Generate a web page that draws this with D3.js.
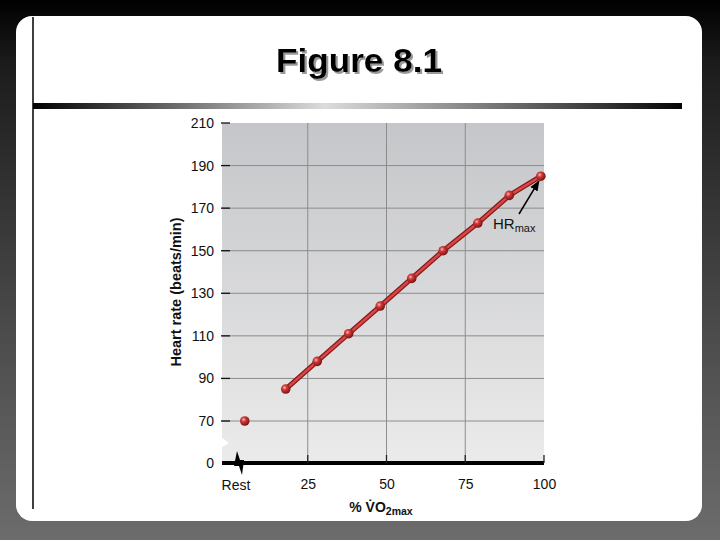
<!DOCTYPE html>
<html>
<head>
<meta charset="utf-8">
<script src="https://cdn.jsdelivr.net/npm/d3@7"></script>
<style>
  body { margin: 0; background: #000; }
  svg { display: block; }
</style>
</head>
<body>
<div id="chart"></div>
<script>
// data
var rest_hr = 70
var rest_pos = 5          // where the rest point sits on the % axis
var exercise_pct = [18, 28, 38, 48, 58, 68, 79, 89, 99]
var exercise_hr = [85, 98, 111, 124, 137, 150, 163, 176, 185]
var y_ticks = [0, 70, 90, 110, 130, 150, 170, 190, 210]
var x_ticks = [25, 50, 75, 100]

var W = 720, H = 540
var plot_left = 222, plot_right = 544, plot_top = 123, plot_bottom = 463

var svg = d3.select("#chart").append("svg")
    .attr("width", W)
    .attr("height", H)
var defs = svg.append("defs")

// gradients
var frame_grad = defs.append("linearGradient").attr("id", "frame_grad")
    .attr("x1", 0).attr("y1", 0).attr("x2", 0).attr("y2", 1)
frame_grad.append("stop").attr("offset", "0%").attr("stop-color", "#000")
frame_grad.append("stop").attr("offset", "12%").attr("stop-color", "#1c1c1c")
frame_grad.append("stop").attr("offset", "60%").attr("stop-color", "#4a4a4a")
frame_grad.append("stop").attr("offset", "100%").attr("stop-color", "#6c6c6c")

var bar_grad = defs.append("linearGradient").attr("id", "bar_grad")
bar_grad.append("stop").attr("offset", "0%").attr("stop-color", "#000")
bar_grad.append("stop").attr("offset", "45%").attr("stop-color", "#dcdcdc")
bar_grad.append("stop").attr("offset", "100%").attr("stop-color", "#050505")

var bg_grad = defs.append("linearGradient").attr("id", "bg_grad")
    .attr("x1", 0).attr("y1", 0).attr("x2", 0).attr("y2", 1)
bg_grad.append("stop").attr("offset", "0%").attr("stop-color", "#c5c6c9")
bg_grad.append("stop").attr("offset", "100%").attr("stop-color", "#ebebeb")

var ball = defs.append("radialGradient").attr("id", "ball")
    .attr("cx", "38%").attr("cy", "35%").attr("r", "65%")
ball.append("stop").attr("offset", "0%").attr("stop-color", "#fbb")
ball.append("stop").attr("offset", "35%").attr("stop-color", "#d33a3a")
ball.append("stop").attr("offset", "100%").attr("stop-color", "#7a1212")

defs.append("filter").attr("id", "shadow")
    .append("feDropShadow")
    .attr("dx", 2).attr("dy", 2).attr("stdDeviation", 0.6)
    .attr("flood-color", "#999").attr("flood-opacity", 1)

defs.append("marker").attr("id", "arrow")
    .attr("viewBox", "0 0 10 10").attr("refX", 9).attr("refY", 5)
    .attr("markerWidth", 7).attr("markerHeight", 7).attr("orient", "auto")
    .append("path").attr("d", "M0,1 L10,5 L0,9 Z").attr("fill", "#000")

// slide frame
svg.append("rect").attr("width", W).attr("height", H).attr("fill", "url(#frame_grad)")
svg.append("rect")
    .attr("x", 16).attr("y", 16).attr("width", 686).attr("height", 505)
    .attr("rx", 16).attr("ry", 16)
    .attr("fill", "#fff")
svg.append("line")
    .attr("x1", 33).attr("y1", 17).attr("x2", 33).attr("y2", 509)
    .attr("stroke", "#000").attr("stroke-width", 1.5)
svg.append("rect")
    .attr("x", 33).attr("y", 103).attr("width", 649).attr("height", 6)
    .attr("fill", "url(#bar_grad)")

// title
var title_font = "'Liberation Sans', Arial, sans-serif"
svg.append("text")
    .text("Figure 8.1")
    .attr("x", 359).attr("y", 72)
    .attr("text-anchor", "middle")
    .attr("font-family", title_font).attr("font-weight", "bold")
    .attr("font-size", 34).attr("fill", "#000")
    .attr("textLength", 166).attr("lengthAdjust", "spacingAndGlyphs")
    .attr("filter", "url(#shadow)")

// scales
var x = d3.scaleLinear().domain([0, 100]).range([229, plot_right])
var y = d3.scaleLinear().domain([0, 70, 210]).range([plot_bottom, 421, plot_top])

var chart = svg.append("g").attr("font-family", title_font)

chart.append("rect")
    .attr("x", plot_left).attr("y", plot_top)
    .attr("width", plot_right - plot_left).attr("height", plot_bottom - plot_top)
    .attr("fill", "url(#bg_grad)")

// grid
chart.selectAll(".hgrid")
    .data(y_ticks.filter(function(d){ return d > 0 && d < 210 })).enter()
    .append("line").attr("class", "hgrid")
    .attr("x1", plot_left).attr("x2", plot_right)
    .attr("y1", function(d){ return y(d) }).attr("y2", function(d){ return y(d) })
    .attr("stroke", "#8c8c8c").attr("stroke-width", 1)
chart.selectAll(".vgrid")
    .data(x_ticks.filter(function(d){ return d < 100 })).enter()
    .append("line").attr("class", "vgrid")
    .attr("x1", function(d){ return x(d) }).attr("x2", function(d){ return x(d) })
    .attr("y1", plot_top).attr("y2", plot_bottom)
    .attr("stroke", "#8c8c8c").attr("stroke-width", 1)

// white notch = y axis break
chart.append("path")
    .attr("d", "M221,437 L229,443 L221,448 Z")
    .attr("fill", "#fff")

// y axis ticks + labels
var yAxis = d3.axisLeft(y).tickValues(y_ticks).tickSize(0).tickPadding(8)
var yg = chart.append("g").attr("transform", "translate(" + plot_left + ",0)").call(yAxis)
yg.select(".domain").remove()
yg.selectAll("text").attr("font-size", 14).attr("font-family", title_font).attr("fill", "#111")
chart.selectAll(".ytick")
    .data(y_ticks.filter(function(d){ return d > 0 })).enter()
    .append("line").attr("class", "ytick")
    .attr("x1", plot_left - 1).attr("x2", plot_left + 8)
    .attr("y1", function(d){ return y(d) }).attr("y2", function(d){ return y(d) })
    .attr("stroke", "#111").attr("stroke-width", 1.3)

// x axis
chart.append("line")
    .attr("x1", plot_left).attr("x2", plot_right)
    .attr("y1", plot_bottom).attr("y2", plot_bottom)
    .attr("stroke", "#000").attr("stroke-width", 4)
chart.selectAll(".xtick")
    .data(x_ticks).enter()
    .append("line").attr("class", "xtick")
    .attr("x1", function(d){ return x(d) }).attr("x2", function(d){ return x(d) })
    .attr("y1", plot_bottom - 8).attr("y2", plot_bottom)
    .attr("stroke", "#222").attr("stroke-width", 1.3)
var xAxis = d3.axisBottom(x).tickValues(x_ticks).tickSize(0).tickPadding(16)
var xg = chart.append("g").attr("transform", "translate(0," + plot_bottom + ")").call(xAxis)
xg.select(".domain").remove()
xg.selectAll("text").attr("font-size", 14).attr("font-family", title_font).attr("fill", "#111")
chart.append("text")
    .text("Rest")
    .attr("x", x(2.2)).attr("y", 490)
    .attr("text-anchor", "middle")
    .attr("font-size", 14).attr("fill", "#111")

// axis break symbol
chart.append("path")
    .attr("d", "M234,466 L237,451 L240,460 L244,460 L242,475 L239,466 Z")
    .attr("fill", "#000")

// axis titles
chart.append("text")
    .text("Heart rate (beats/min)")
    .attr("transform", "translate(181,292) rotate(-90)")
    .attr("text-anchor", "middle")
    .attr("font-size", 14.5).attr("font-weight", "bold").attr("fill", "#111")
var xt = chart.append("text")
    .attr("x", 381).attr("y", 512)
    .attr("text-anchor", "middle")
    .attr("font-size", 14).attr("font-weight", "bold").attr("fill", "#111")
xt.append("tspan").text("% V\u0307O")
xt.append("tspan").text("2max").attr("font-size", 10.5).attr("dy", 3)

// data line
var pts = exercise_pct.map(function(d, i){ return [d, exercise_hr[i]] })
var line = d3.line().x(function(d){ return x(d[0]) }).y(function(d){ return y(d[1]) })
chart.append("path").datum(pts)
    .attr("d", line).attr("fill", "none")
    .attr("stroke", "#8a1a1a").attr("stroke-width", 5).attr("stroke-linejoin", "round")
chart.append("path").datum(pts)
    .attr("d", line).attr("fill", "none")
    .attr("stroke", "#d84848").attr("stroke-width", 2.4).attr("stroke-linejoin", "round")

var all_pts = [[rest_pos, rest_hr]].concat(pts)
chart.selectAll(".dot")
    .data(all_pts).enter()
    .append("circle").attr("class", "dot")
    .attr("cx", function(d){ return x(d[0]) })
    .attr("cy", function(d){ return y(d[1]) })
    .attr("r", 4.8)
    .attr("fill", "url(#ball)")

// HRmax annotation
var hr_max = pts[pts.length - 1]
chart.append("line")
    .attr("x1", 519).attr("y1", 214)
    .attr("x2", x(hr_max[0]) - 2).attr("y2", y(hr_max[1]) + 5)
    .attr("stroke", "#000").attr("stroke-width", 1.5)
    .attr("marker-end", "url(#arrow)")
var ann = chart.append("text")
    .attr("x", 493).attr("y", 229)
    .attr("font-size", 15).attr("fill", "#111")
ann.append("tspan").text("HR")
ann.append("tspan").text("max").attr("font-size", 11).attr("dy", 3)
</script>
</body>
</html>
